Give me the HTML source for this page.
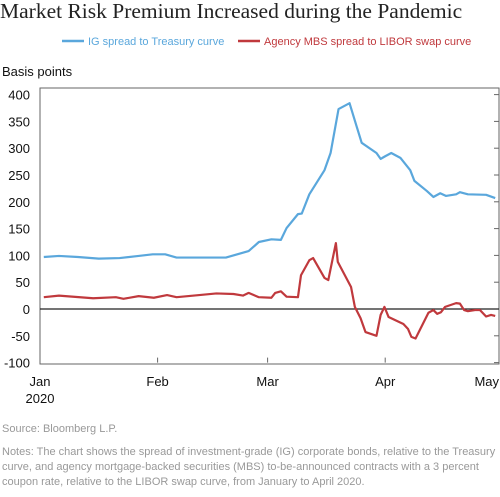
<!DOCTYPE html>
<html><head><meta charset="utf-8"><style>
body{margin:0;width:500px;height:497px;background:#fff;overflow:hidden;font-family:"Liberation Sans",sans-serif}
.t{position:absolute;white-space:nowrap}
</style></head><body>
<div class="t" style="left:0;top:-1px;font-family:'Liberation Serif',serif;font-size:21.5px;color:#222">Market Risk Premium Increased during the Pandemic</div>
<svg width="500" height="497" style="position:absolute;left:0;top:0" id="ch" font-family="Liberation Sans, sans-serif">
<g>
<line x1="62" y1="41" x2="84" y2="41" stroke="#5aa7dc" stroke-width="2.5"/>
<text x="88" y="45" font-size="11" fill="#5aa7dc">IG spread to Treasury curve</text>
<line x1="238" y1="41" x2="260" y2="41" stroke="#c0393d" stroke-width="2.5"/>
<text x="264" y="45" font-size="11" fill="#c0393d">Agency MBS spread to LIBOR swap curve</text>
</g>
<text x="2" y="76" font-size="13" fill="#111">Basis points</text>
<rect x="40" y="88" width="459" height="276" fill="none" stroke="#666" stroke-width="1"/>
<g id="yt"></g><g id="xt"></g><g id="ser"></g>
<text x="2" y="432" font-size="11" fill="#999">Source: Bloomberg L.P.</text>
<g font-size="11" fill="#999">
<text x="2" y="455">Notes: The chart shows the spread of investment-grade (IG) corporate bonds, relative to the Treasury</text>
<text x="2" y="470">curve, and agency mortgage-backed securities (MBS) to-be-announced contracts with a 3 percent</text>
<text x="2" y="485">coupon rate, relative to the LIBOR swap curve, from January to April 2020.</text>
</g>
</svg>
<script>
const yTicks=[400,350,300,250,200,150,100,50,0,-50,-100];
const monthLabels=["Jan","Feb","Mar","Apr","May"];
const monthDays=[0,31,60,91,121];
const igDays=[1,5,10,15.5,21,26,29.7,33,36,41,49,55,57.7,61,63.5,65,68,69,71,75,76.6,78.7,81.6,83.5,84.8,88.7,89.8,91,92.6,95,97.6,98.7,102,103.7,105.5,107,109.7,110.7,112.8,117.6,120];
const igVals=[97,99,97,94,95,99,102,102,96,96,96,108,125,130,129,151,177,178,214,259,291,373,384,340,310,291,280,285,291,282,259,239,220,209,216,211,214,218,214,213,207];
const mbsDays=[1,5,14,20,22,26,30,33.5,36,42,46.5,51,53.5,55,57.7,61,62,63.5,65,68,68.8,71,72,75,76,78,78.5,82,83,84.5,85.8,88.7,89.8,90.8,91.9,93.7,95.8,97,97.9,99,102.4,103.7,104.7,105.7,106.8,109.7,110.7,111.8,112.8,114.7,116,117.6,118.9,120];
const mbsVals=[22,25,20,22,19,24,21,26,22,26,29,28,25,30,22,21,30,33,23,22,63,91,95,58,54,123,88,41,4,-17,-43,-50,-11,4,-15,-21,-28,-37,-52,-55,-7,-2,-9,-6,4,11,10,-2,-4,-2,-2,-14,-11,-13];
const NS="http://www.w3.org/2000/svg";
const X=d=>40+d*459/121, Y=v=>309-v*0.536;
function mk(t,a,p){const e=document.createElementNS(NS,t);for(const k in a)e.setAttribute(k,a[k]);p.appendChild(e);return e;}
const yt=document.getElementById('yt');
yTicks.forEach(v=>{
 const tx=mk('text',{x:30,y:Y(v)+5,'text-anchor':'end','font-size':13,fill:'#111'},yt);tx.textContent=v;
 
 
 const l=mk('line',{x1:494,x2:499,y1:Y(v),y2:Y(v),stroke:'#666'},yt);
 
 
});
const z=mk('line',{x1:40,x2:499,y1:Y(0),y2:Y(0),stroke:'#222','stroke-width':1.3},yt);


const xt=document.getElementById('xt');
monthLabels.forEach((m,i)=>{
 const x=X(monthDays[i]);
 const l=mk('line',{x1:x,x2:x,y1:Y(-100),y2:Y(-100)-5,stroke:'#666'},xt);
 
 
 const last=i===monthLabels.length-1;
 const t=mk('text',{x:last?499:x,y:386,'text-anchor':last?'end':'middle','font-size':13,fill:'#111'},xt);t.textContent=m;
 
 
});
const y2=mk('text',{x:X(0),y:403,'text-anchor':'middle','font-size':13,fill:'#111'},xt);y2.textContent="2020";


const s=document.getElementById('ser');
const p1=mk('polyline',{points:igDays.map((d,i)=>X(d)+','+Y(igVals[i])).join(' '),fill:'none',stroke:'#5aa7dc','stroke-width':2.2,'stroke-linejoin':'round'},s);


const p2=mk('polyline',{points:mbsDays.map((d,i)=>X(d)+','+Y(mbsVals[i])).join(' '),fill:'none',stroke:'#c0393d','stroke-width':2.2,'stroke-linejoin':'round'},s);


</script>
</body></html>
